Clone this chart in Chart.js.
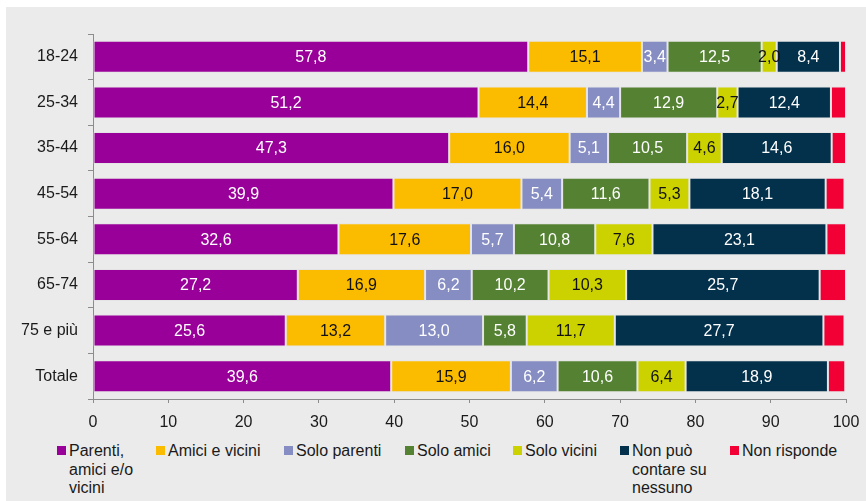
<!DOCTYPE html>
<html>
<head>
<meta charset="utf-8">
<script src="https://cdn.jsdelivr.net/npm/chart.js@4"></script>
<style>
  body { margin: 0; background: #fff; font-family: "Liberation Sans", Arial, sans-serif; }
  #panel { position: absolute; left: 6px; top: 7px; right: 0; bottom: 0; background: #ebebeb; }
  #wrap { position: absolute; left: 0; top: 0; width: 866px; height: 432px; }
  .leg { position: absolute; top: 442px; font-size: 16px; line-height: 18.5px; color: #1a1a1a; white-space: pre-line; }
  .leg i { position: absolute; left: -12px; top: 4px; width: 9px; height: 9px; }
</style>
</head>
<body>
<div id="panel"></div>
<div id="wrap"><canvas id="chart"></canvas></div>
<div id="legend"></div>
<script>
// fasce di eta
const eta = ['18-24', '25-34', '35-44', '45-54', '55-64', '65-74', '75 e più', 'Totale'];

const parentiAmiciVicini = [57.8, 51.2, 47.3, 39.9, 32.6, 27.2, 25.6, 39.6];
const amiciVicini = [15.1, 14.4, 16.0, 17.0, 17.6, 16.9, 13.2, 15.9];
const soloParenti = [3.4, 4.4, 5.1, 5.4, 5.7, 6.2, 13.0, 6.2];
const soloAmici = [12.5, 12.9, 10.5, 11.6, 10.8, 10.2, 5.8, 10.6];
const soloVicini = [2.0, 2.7, 4.6, 5.3, 7.6, 10.3, 11.7, 6.4];
const nessuno = [8.4, 12.4, 14.6, 18.1, 23.1, 25.7, 27.7, 18.9];
const nonRisponde = [0.8, 2.0, 1.9, 2.5, 2.6, 3.5, 2.8, 2.3];

const xTicks = [0, 10, 20, 30, 40, 50, 60, 70, 80, 90, 100];

const serie = [
  { label: 'Parenti,\namici e/o\nvicini', data: parentiAmiciVicini, color: '#990099', text: '#fff', lx: 69 },
  { label: 'Amici e vicini', data: amiciVicini, color: '#fbbc00', text: '#111', lx: 168 },
  { label: 'Solo parenti', data: soloParenti, color: '#858dc2', text: '#fff', lx: 296 },
  { label: 'Solo amici', data: soloAmici, color: '#548232', text: '#fff', lx: 417 },
  { label: 'Solo vicini', data: soloVicini, color: '#ccd200', text: '#111', lx: 525 },
  { label: 'Non può\ncontare su\nnessuno', data: nessuno, color: '#03314b', text: '#fff', lx: 632 },
  { label: 'Non risponde', data: nonRisponde, color: '#f20035', text: null, lx: 742 }
];

// legenda html
const leg = document.getElementById('legend');
serie.forEach(s => {
  const d = document.createElement('div');
  d.className = 'leg';
  d.style.left = s.lx + 'px';
  d.innerHTML = '<i style="background:' + s.color + '"></i>';
  d.appendChild(document.createTextNode(s.label));
  leg.appendChild(d);
});

const font = { family: '"Liberation Sans", Arial, sans-serif', size: 16 };

// etichette dentro le barre
const valori = {
  id: 'valori',
  afterDatasetsDraw(chart) {
    const ctx = chart.ctx;
    ctx.save();
    ctx.font = '16px "Liberation Sans", Arial, sans-serif';
    ctx.textAlign = 'center';
    ctx.textBaseline = 'middle';
    chart.data.datasets.forEach((ds, i) => {
      if (!serie[i].text) return;
      chart.getDatasetMeta(i).data.forEach((bar, j) => {
        const p = bar.getProps(['x', 'y', 'base'], true);
        ctx.fillStyle = serie[i].text;
        ctx.fillText(ds.data[j].toFixed(1).replace('.', ','), (p.x + p.base) / 2, p.y + 1);
      });
    });
    ctx.restore();
  }
};

new Chart(document.getElementById('chart'), {
  type: 'bar',
  data: {
    labels: eta,
    datasets: serie.map(s => ({
      label: s.label,
      data: s.data,
      backgroundColor: s.color,
      borderColor: 'rgba(225,225,225,0.7)',
      borderWidth: 1,
      borderSkipped: false,
      barPercentage: 0.7,
      categoryPercentage: 1
    }))
  },
  options: {
    indexAxis: 'y',
    responsive: true,
    maintainAspectRatio: false,
    animation: false,
    layout: { padding: { left: 0, right: 20, top: 34, bottom: 0 } },
    plugins: { legend: { display: false }, tooltip: { enabled: false } },
    scales: {
      x: {
        stacked: true,
        min: 0,
        max: 100,
        afterBuildTicks: s => { s.ticks = xTicks.map(v => ({ value: v })); },
        afterFit: s => { s.height = 33; s.paddingRight = 0; s.paddingLeft = 0; },
        grid: { drawOnChartArea: false, tickLength: 4, color: '#8c8c8c' },
        border: { color: '#8c8c8c' },
        ticks: { color: '#1a1a1a', font: font, padding: 10 }
      },
      y: {
        stacked: true,
        afterFit: s => { s.width = 93; },
        grid: { drawOnChartArea: false, tickLength: 5, color: '#8c8c8c', offset: true },
        border: { color: '#8c8c8c' },
        ticks: { color: '#1a1a1a', font: font, padding: 10 }
      }
    }
  },
  plugins: [valori]
});
</script>
</body>
</html>
